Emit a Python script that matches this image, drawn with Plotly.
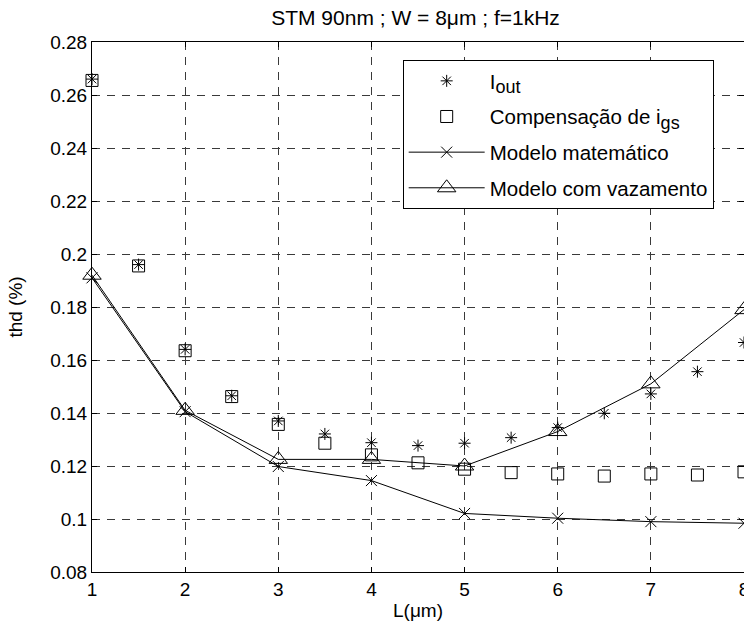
import plotly.graph_objects as go

# ---- data ----
x_half = [1, 1.5, 2, 2.5, 3, 3.5, 4, 4.5, 5, 5.5, 6, 6.5, 7, 7.5, 8]
iout = [0.266, 0.196, 0.164, 0.1465, 0.137, 0.1321, 0.1288, 0.1277, 0.1286,
        0.1307, 0.1345, 0.1399, 0.1472, 0.1556, 0.1666]
comp_igs = [0.2655, 0.1955, 0.1635, 0.1462, 0.1357, 0.1286, 0.1242, 0.1212, 0.1188,
            0.1175, 0.1170, 0.1162, 0.1170, 0.1166, 0.1178]
x_int = [1, 2, 3, 4, 5, 6, 7, 8]
modelo_mat = [0.191, 0.1405, 0.1198, 0.1145, 0.1021, 0.1003, 0.0990, 0.0984]
modelo_vaz = [0.192, 0.141, 0.1225, 0.1225, 0.1200, 0.1330, 0.1510, 0.1790]

y_ticks = [0.08, 0.10, 0.12, 0.14, 0.16, 0.18, 0.20, 0.22, 0.24, 0.26, 0.28]
y_tick_labels = ["0.08", "0.1", "0.12", "0.14", "0.16", "0.18", "0.2", "0.22", "0.24", "0.26", "0.28"]
x_ticks = [1, 2, 3, 4, 5, 6, 7, 8]

FONT = "Liberation Sans, Arial, sans-serif"
FS = 19
LFS = 20.5

fig = go.Figure()
fig.add_trace(go.Scatter(
    x=x_half, y=iout, mode="markers",
    name="I<sub><span style='font-size:18px'>out</span></sub>",
    legendgroup="a",
    marker=dict(symbol="asterisk-open", size=10, color="black",
                line=dict(color="black", width=1)),
    cliponaxis=False))
fig.add_trace(go.Scatter(
    x=x_half, y=comp_igs, mode="markers",
    name="Compensação de i<sub><span style='font-size:18px'>gs</span></sub>",
    legendgroup="b",
    marker=dict(symbol="square-open", size=12, color="black",
                line=dict(color="black", width=1)),
    cliponaxis=False))
fig.add_trace(go.Scatter(
    x=x_int, y=modelo_mat, mode="lines+markers", name="Modelo matemático",
    legendgroup="c",
    line=dict(color="black", width=1),
    marker=dict(symbol="x-thin-open", size=11, color="black",
                line=dict(color="black", width=1)),
    cliponaxis=False))
fig.add_trace(go.Scatter(
    x=x_int, y=modelo_vaz, mode="lines+markers", name="Modelo com vazamento",
    legendgroup="d",
    line=dict(color="black", width=1),
    marker=dict(symbol="triangle-up-open", size=16, color="black",
                line=dict(color="black", width=1)),
    cliponaxis=False))

axis_common = dict(
    showline=True, linecolor="black", linewidth=1, mirror="ticks",
    ticks="inside", ticklen=5, tickcolor="black", tickwidth=1,
    showgrid=True, gridcolor="#3a3a3a", gridwidth=1, griddash="8px,7px",
    zeroline=False, automargin=False,
    tickfont=dict(family=FONT, size=FS, color="black"),
)

fig.update_layout(
    width=744, height=630,
    margin=dict(l=92, r=0, t=42, b=58, autoexpand=False),
    paper_bgcolor="white", plot_bgcolor="white",
    font=dict(family=FONT, size=FS, color="black"),
    title=dict(text="STM 90nm ; W = 8μm ; f=1kHz", x=0.5585, xanchor="center",
               y=0.972, yanchor="middle",
               font=dict(family=FONT, size=21, color="black")),
    xaxis=dict(range=[1, 8], tickvals=x_ticks, ticklabeloverflow="allow",
               **axis_common,
               title=dict(text="L(μm)", standoff=4,
                          font=dict(family=FONT, size=FS, color="black"))),
    yaxis=dict(range=[0.08, 0.28], tickvals=y_ticks, ticktext=y_tick_labels,
               **axis_common,
               title=dict(text="thd (%)", standoff=22,
                          font=dict(family=FONT, size=FS, color="black"))),
    showlegend=True,
    legend=dict(x=0.4765, y=0.966, xanchor="left", yanchor="top",
                bgcolor="white", bordercolor="black", borderwidth=1,
                itemwidth=76, tracegroupgap=6, traceorder="grouped",
                font=dict(family=FONT, size=LFS, color="black")),
)

fig.write_html("out.html")
